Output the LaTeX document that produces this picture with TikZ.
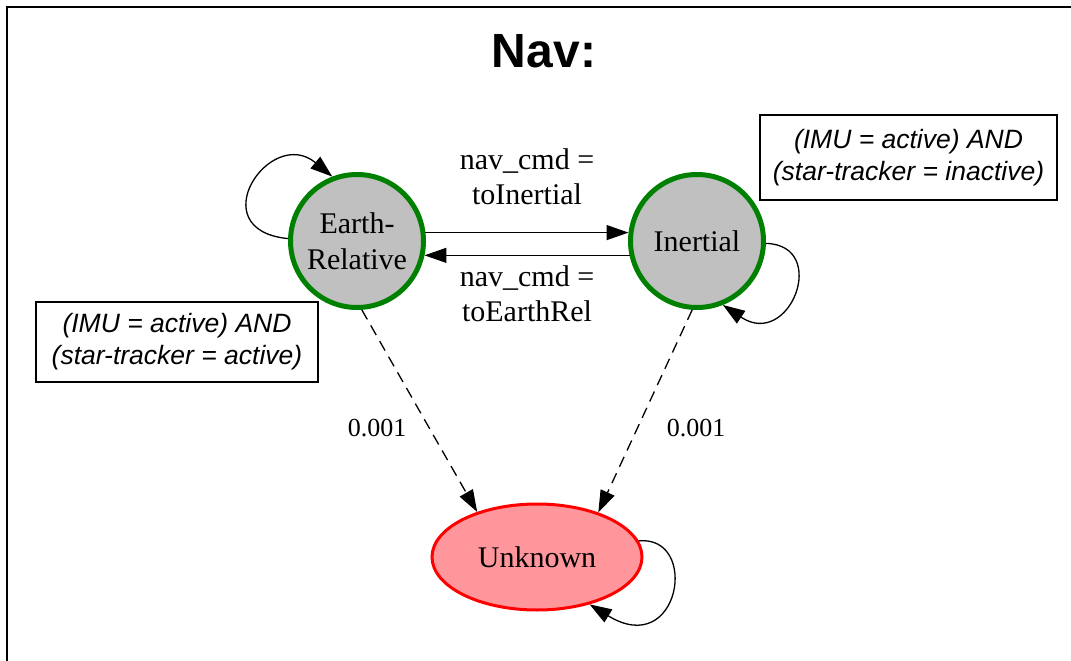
\documentclass[tikz,border=0pt]{standalone}
\usepackage{fontspec}
\setmainfont{Liberation Serif}
\setsansfont{Liberation Sans}
\usetikzlibrary{arrows.meta,shapes.geometric}
\definecolor{stategray}{RGB}{192,192,192}
\definecolor{stategreen}{RGB}{0,128,0}
\definecolor{unkfill}{RGB}{255,150,155}
\definecolor{unkred}{RGB}{255,0,0}
\tikzset{
  state/.style={circle, draw=stategreen, fill=stategray, line width=5pt,
    minimum size=133pt, inner sep=0pt, align=center,
    font=\fontsize{30}{36}\selectfont},
  badstate/.style={ellipse, draw=unkred, fill=unkfill, line width=3pt,
    minimum width=210pt, minimum height=106pt, inner sep=0pt,
    font=\fontsize{30}{36}\selectfont},
  trans/.style={line width=1.3pt, -{Triangle[length=22pt,width=15pt]}},
  dashtrans/.style={trans, dash pattern=on 11pt off 7pt},
  elabel/.style={align=center, font=\fontsize{30}{35}\selectfont},
  plabel/.style={font=\fontsize{26}{30}\selectfont},
  condbox/.style={draw, line width=1.5pt, align=center, inner sep=0pt,
    font=\sffamily\itshape\fontsize{26.5}{32}\selectfont},
  title/.style={font=\sffamily\bfseries\fontsize{48}{54}\selectfont}
}
\begin{document}
\begin{tikzpicture}[x=1pt,y=-1pt]
\clip (0,0) rectangle (1071,661);
\draw[line width=2.5pt] (7,7) rectangle (1100,700);
\node[title] (ttl) at (544,51) {Nav:};
\node[state] (er) at (357,241) {Earth-\\Relative};
\node[state] (in) at (697,241) {Inertial};
\node[badstate] (un) at (537,557) {Unknown};
\node[condbox, minimum width=282pt, minimum height=80pt] (cl) at (177,342)
  {(IMU = active) AND\\(star-tracker = active)};
\node[condbox, minimum width=297pt, minimum height=85pt] (cr) at (908.5,157.5)
  {(IMU = active) AND\\(star-tracker = inactive)};
% horizontal transitions
\draw[trans] (er.7) -- (in.173);
\draw[trans] (in.192) -- (er.348);
\node[elabel] (l1) at (527,177) {nav\_cmd =\\toInertial};
\node[elabel] (l2) at (527,294) {nav\_cmd =\\toEarthRel};
% dashed transitions
\draw[dashtrans] (er.274) -- (un.143);
\draw[dashtrans] (in.266) -- (un.36);
\node[plabel] (p1) at (377,428) {0.001};
\node[plabel] (p2) at (696,428) {0.001};
% self loops
\draw[trans] (er.178) .. controls (200,230) and (270,125) .. (er.111);
\draw[trans] (in.358) .. controls (830,245) and (790,350) .. (in.292);
\draw[trans] (un.9) .. controls (700,535) and (680,660) .. (un.318);
\end{tikzpicture}
\end{document}
